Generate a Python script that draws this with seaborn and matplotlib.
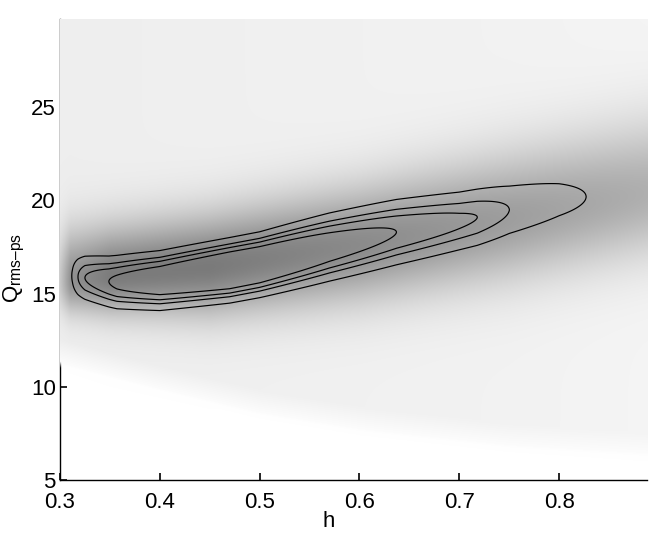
import numpy as np
import seaborn as sns
import matplotlib
matplotlib.use("Agg")
import matplotlib.pyplot as plt

#****************************************
# Values

# axis ranges and ticks
h_range = [0.3, 0.888]
q_range = [5.0, 29.75]
h_ticks = [0.3, 0.4, 0.5, 0.6, 0.7, 0.8]
q_ticks = [5, 10, 15, 20, 25]

# contoured density: ridge centre, width and height along h
post_h = [0.30, 0.312, 0.318, 0.325, 0.349, 0.357, 0.40, 0.47, 0.50, 0.57, 0.637, 0.70, 0.718, 0.75, 0.80, 0.827, 0.888]
post_center = [15.95, 15.95, 15.9, 15.85, 15.65, 15.62, 15.7, 16.25, 16.55, 17.5, 18.3, 18.9, 19.1, 19.5, 20.04, 20.2, 20.6]
post_width = [0.72, 0.72, 0.72, 0.72, 0.74, 0.75, 0.77, 0.79, 0.80, 0.90, 0.95, 0.93, 0.94, 0.96, 0.96, 0.96, 0.96]
post_height = [0.05, 0.10, 0.24, 0.363, 0.55, 0.62, 0.89, 1.20, 1.15, 0.79, 0.55, 0.40, 0.363, 0.24, 0.149, 0.10, 0.03]
contour_levels = [0.10, 0.24, 0.363, 0.55]

# shaded density: ridge centre, peak darkness, upper / lower spread
shade_h = [0.30, 0.31, 0.35, 0.45, 0.60, 0.75, 0.888]
shade_center = [15.6, 15.7, 15.9, 16.4, 17.6, 19.0, 20.4]
shade_peak = [0.15, 0.36, 0.45, 0.46, 0.40, 0.33, 0.27]
shade_up = [1.9, 1.9, 1.9, 2.0, 2.2, 2.5, 2.7]
shade_low = [1.1, 1.2, 1.4, 1.8, 2.1, 2.3, 2.4]
shade_floor = [0.066, 0.066, 0.064, 0.060, 0.055, 0.05, 0.042]

# edge of the white area at the bottom
edge_h = [0.30, 0.40, 0.50, 0.60, 0.75, 0.888]
edge_q = [11.0, 9.6, 8.3, 7.4, 6.5, 6.0]

#****************************************
# Fields on a grid
hh = np.linspace(h_range[0], h_range[1], 800)
qq = np.linspace(q_range[0], q_range[1], 700)
H, Q = np.meshgrid(hh, qq)

c = np.interp(hh, post_h, post_center)
w = np.interp(hh, post_h, post_width)
g = np.interp(hh, post_h, post_height)
post = g * np.exp(-0.5 * ((Q - c) / w) ** 2)

cs = np.interp(hh, shade_h, shade_center)
amp = np.interp(hh, shade_h, shade_peak)
su = np.interp(hh, shade_h, shade_up)
sl = np.interp(hh, shade_h, shade_low)
fl = np.interp(hh, shade_h, shade_floor)
qe = np.interp(hh, edge_h, edge_q)
z = np.where(Q > cs, (Q - cs) / su, (Q - cs) / sl)
dark = amp * np.exp(-0.5 * z ** 2) + fl * np.clip((Q - qe) / 1.5, 0, 1)

rgba = np.empty(dark.shape + (4,))
rgba[..., :3] = (1 - dark)[..., None]
rgba[..., 3] = np.clip(dark / 0.015, 0, 1)

#****************************************
# Plot
sns.set_style("white")
plt.rcParams["font.family"] = ["Liberation Sans", "DejaVu Sans"]
plt.rcParams["mathtext.fontset"] = "custom"
plt.rcParams["mathtext.rm"] = "Liberation Sans"
plt.rcParams["xtick.direction"] = "in"
plt.rcParams["ytick.direction"] = "in"

fig = plt.figure(figsize=(6.54, 5.38), dpi=100)
ax = fig.add_axes([0.0917, 0.108, 0.8976, 0.857])

ax.imshow(rgba, extent=[h_range[0], h_range[1], q_range[0], q_range[1]],
          origin="lower", aspect="auto", interpolation="bilinear", zorder=3)
ax.contour(hh, qq, post, levels=contour_levels, colors="k", linewidths=0.85, zorder=4)

ax.set_xlim(h_range)
ax.set_ylim(q_range)
ax.set_xticks(h_ticks)
ax.set_xticklabels([f"{t:.1f}" for t in h_ticks])
ax.set_yticks(q_ticks)
ax.set_yticklabels([str(t) for t in q_ticks])
ax.tick_params(axis="both", labelsize=16, length=5, width=1.2, color="k",
               labelcolor="k", bottom=True, left=True)
ax.tick_params(axis="x", pad=9)
ax.tick_params(axis="y", pad=3)
sns.despine(ax=ax)
for s in ["left", "bottom"]:
    ax.spines[s].set_color("k")
    ax.spines[s].set_linewidth(1.0)

ax.set_xlabel("h", fontsize=16, color="k", labelpad=0)
ax.xaxis.set_label_coords(0.458, -0.068)
ax.set_ylabel(r"$\mathregular{Q_{rms–ps}}$", fontsize=16, color="k", labelpad=0)
ax.yaxis.set_label_coords(-0.056, 0.46)

fig.savefig("out.png", dpi=100)
